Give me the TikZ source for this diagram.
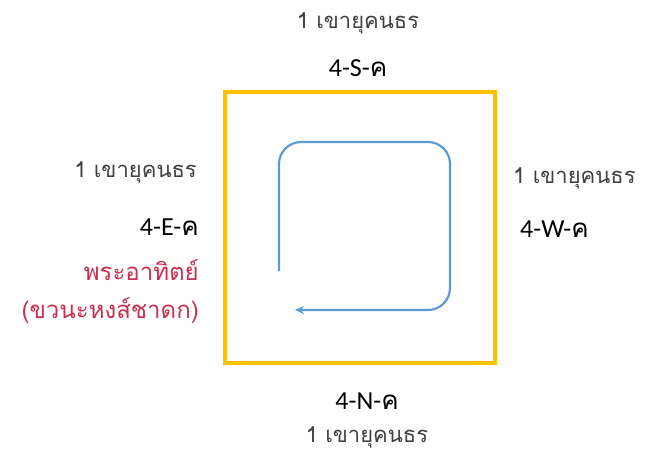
\documentclass[tikz,border=0pt]{standalone}
\usepackage{fontspec}
\setmainfont{Carlito}
\newfontfamily\thai[Script=Thai]{Loma}
\usetikzlibrary{arrows.meta}
\definecolor{gold}{HTML}{FFC000}
\definecolor{flowblue}{HTML}{5B9BD5}
\definecolor{graytxt}{HTML}{404040}
\definecolor{redtxt}{HTML}{C8304F}
\tikzset{
  mount/.style={text=graytxt, font=\thai\fontsize{22}{26}\selectfont, inner sep=0pt},
  dir/.style={text=black, font=\fontsize{26}{30}\selectfont, inner sep=0pt},
  sun/.style={text=redtxt, font=\thai\fontsize{24}{28}\selectfont, inner sep=0pt},
}
\begin{document}
\begin{tikzpicture}[x=1pt,y=-1pt]
\useasboundingbox (0,0) rectangle (660,464);
\draw[gold, line width=4pt] (225,92) rectangle (495,363);
\coordinate (s) at (279,271);
\coordinate (e) at (295,310);
\draw[flowblue, line width=2.2pt, rounded corners=22pt, -{Stealth[length=9pt,width=8pt]}]
  (s) -- (279,142) -- (450,142) -- (450,310) -- (e);
\node[mount] (tm) at (358,23) {1 เขายุคนธร};
\node[dir] (ts) at (358,68) {4-S-{\thai ค}};
\node[mount, anchor=east] (lm) at (197,172) {1 เขายุคนธร};
\node[dir, anchor=east] (le) at (199,227) {4-E-{\thai ค}};
\node[sun, anchor=east] (ls) at (199,270) {พระอาทิตย์};
\node[sun, anchor=east] (lj) at (199,310) {(ขวนะหงส์ชาดก)};
\node[mount, anchor=west] (rm) at (513,178) {1 เขายุคนธร};
\node[dir, anchor=west] (rw) at (520,229) {4-W-{\thai ค}};
\node[dir] (bn) at (367,401) {4-N-{\thai ค}};
\node[mount] (bm) at (367,437) {1 เขายุคนธร};
\end{tikzpicture}
\end{document}
